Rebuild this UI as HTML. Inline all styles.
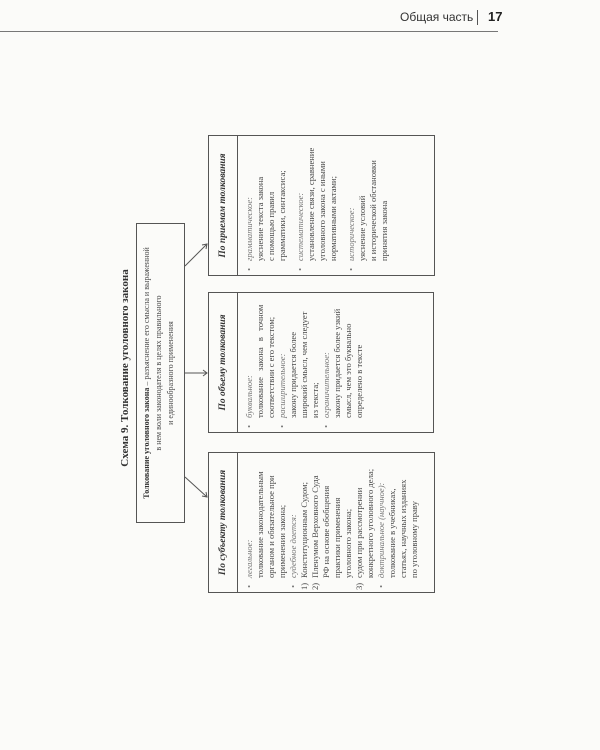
<!DOCTYPE html>
<html><head><meta charset="utf-8"><style>
body{margin:0;width:600px;height:750px;background:#fbfbf9;position:relative;overflow:hidden;font-family:"Liberation Serif",serif;color:#4a4a4a}
.r{position:absolute;transform-origin:0 0;transform:rotate(-90deg);box-sizing:border-box}
.box{border:1px solid #555;display:flex;flex-direction:column}
.hd{height:28px;border-bottom:1px solid #555;font-style:italic;font-weight:bold;font-size:9.5px;display:flex;align-items:center;justify-content:center;color:#333;flex:none}
.bd{padding:6px 4px 0 14px;font-size:8.6px;line-height:11px;position:relative;white-space:nowrap}
.bd p{margin:0}
.b{position:relative}
.b:before{content:"•";position:absolute;left:-10px}
.i{font-style:italic;color:#777}
.g{height:7px}
.n{position:relative}
.n span{position:absolute;left:-12px}
</style></head><body>
<div style="position:absolute;left:400px;top:10px;font-family:'Liberation Sans',sans-serif;font-size:12px;color:#333;white-space:nowrap">Общая часть</div>
<div style="position:absolute;left:477px;top:10px;width:1px;height:15px;background:#555"></div>
<div style="position:absolute;left:488px;top:9px;font-family:'Liberation Sans',sans-serif;font-size:13px;font-weight:bold;color:#222">17</div>
<div style="position:absolute;left:0;top:31px;width:498px;height:1px;background:#777"></div>

<div class="r" style="left:117px;top:478px;width:220px;height:16px;font-size:11px;font-weight:bold;text-align:center;color:#333;line-height:16px;white-space:nowrap">Схема 9. Толкование уголовного закона</div>

<div class="r box" style="left:136px;top:523px;width:300px;height:49px;display:block;padding-top:4px;font-size:8px;line-height:12px;text-align:center;white-space:nowrap">
<b style="color:#333">Толкование уголовного закона</b> – разъяснение его смысла и выраженной<br>в нем воли законодателя в целях правильного<br>и единообразного применения</div>

<svg style="position:absolute;left:0;top:0" width="600" height="750">
<g stroke="#555" stroke-width="1" fill="none">
<line x1="185" y1="266" x2="207" y2="244"/><polyline points="202,245 207,244 206,249"/>
<line x1="185" y1="373" x2="207" y2="373"/><polyline points="203,370 207,373 203,376"/>
<line x1="185" y1="477" x2="207" y2="497"/><polyline points="202,496 207,497 206,492"/>
</g></svg>

<div class="r box" style="left:208px;top:276px;width:141px;height:227px">
<div class="hd">По приемам толкования</div>
<div class="bd">
<p class="b i">грамматическое:</p><p>уяснение текста закона</p><p>с помощью правил</p><p>грамматики, синтаксиса;</p><div class="g"></div>
<p class="b i">систематическое:</p><p>установление связи, сравнение</p><p>уголовного закона с иными</p><p>нормативными актами;</p><div class="g"></div>
<p class="b i">историческое:</p><p>уяснение условий</p><p>и исторической обстановки</p><p>принятия закона</p>
</div></div>

<div class="r box" style="left:208px;top:433px;width:141px;height:226px">
<div class="hd">По объему толкования</div>
<div class="bd">
<p class="b i">буквальное:</p><p style="word-spacing:4px">толкование закона в точном</p><p>соответствии с его текстом;</p>
<p class="b i">расширительное:</p><p>закону придается более</p><p>широкий смысл, чем следует</p><p>из текста;</p>
<p class="b i">ограничительное:</p><p>закону придается более узкий</p><p>смысл, чем это буквально</p><p>определено в тексте</p>
</div></div>

<div class="r box" style="left:208px;top:593px;width:141px;height:227px">
<div class="hd">По субъекту толкования</div>
<div class="bd">
<p class="b i">легальное:</p><p>толкование законодательным</p><p>органом и обязательное при</p><p>применении закона;</p>
<p class="b i">судебное дается:</p><p class="n"><span>1)</span>Конституционным Судом;</p><p class="n"><span>2)</span>Пленумом Верховного Суда</p><p>РФ на основе обобщения</p><p>практики применения</p><p>уголовного закона;</p><p class="n"><span>3)</span>судом при рассмотрении</p><p>конкретного уголовного дела;</p>
<p class="b i">доктринальное (научное):</p><p>толкование в учебниках,</p><p>статьях, научных изданиях</p><p>по уголовному праву</p>
</div></div>
</body></html>
